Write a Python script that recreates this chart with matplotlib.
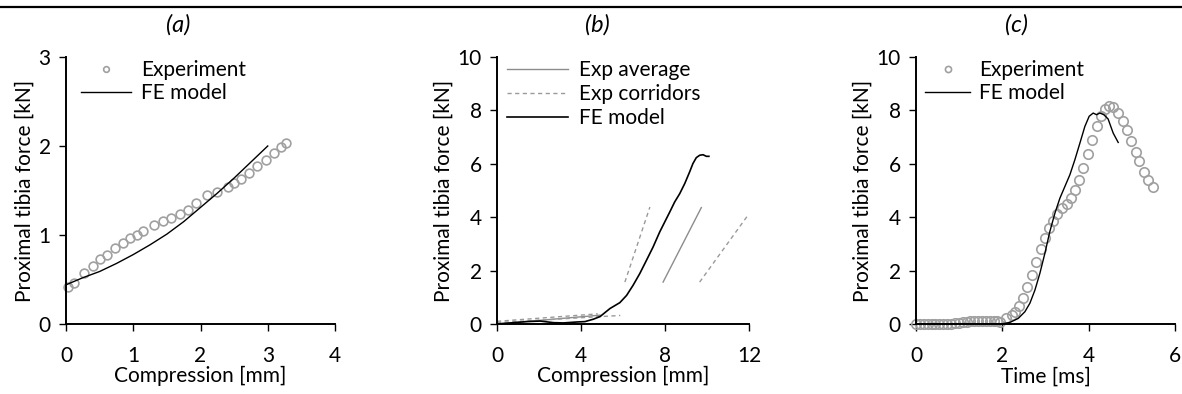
import matplotlib
matplotlib.use("Agg")
import matplotlib.pyplot as plt
from matplotlib.lines import Line2D

plt.rcParams['font.family'] = ['Lato', 'DejaVu Sans']
FS = 15

# ---------------- Panel (a) data ----------------
a_exp_x = [0.035, 0.119, 0.272, 0.396, 0.505, 0.614, 0.733, 0.842, 0.955, 1.05,
           1.149, 1.302, 1.436, 1.564, 1.693, 1.807, 1.926, 2.104, 2.243, 2.416,
           2.50, 2.609, 2.723, 2.842, 2.98, 3.094, 3.193, 3.277]
a_exp_y = [0.412, 0.457, 0.569, 0.655, 0.727, 0.779, 0.850, 0.906, 0.963, 1.0,
           1.049, 1.109, 1.157, 1.195, 1.240, 1.281, 1.360, 1.449, 1.487, 1.536,
           1.588, 1.625, 1.693, 1.779, 1.843, 1.918, 1.985, 2.03]
a_fe_x = [0.0, 0.25, 0.5, 0.75, 1.0, 1.25, 1.5, 1.75, 2.0, 2.25, 2.5, 2.75, 3.0]
a_fe_y = [0.44, 0.52, 0.59, 0.68, 0.78, 0.89, 1.01, 1.15, 1.31, 1.47, 1.64, 1.82, 2.0]

# ---------------- Panel (b) data ----------------
b_avg_low_x = [0.0, 4.9]
b_avg_low_y = [0.0, 0.33]
b_avg_high_x = [7.91, 9.73]
b_avg_high_y = [1.57, 4.36]
b_cor1_low_x = [0.0, 4.8]
b_cor1_low_y = [0.10, 0.38]
b_cor1_high_x = [6.09, 7.28]
b_cor1_high_y = [1.57, 4.38]
b_cor2_low_x = [0.0, 5.87]
b_cor2_low_y = [0.05, 0.32]
b_cor2_high_x = [9.65, 11.91]
b_cor2_high_y = [1.57, 4.03]
b_fe_x = [0.0, 0.63, 1.42, 2.06, 2.69, 3.16, 3.80, 4.19, 4.59, 4.91, 5.38, 5.85,
          6.17, 6.48, 6.80, 7.12, 7.43, 7.75, 8.07, 8.23, 8.46, 8.70, 8.94, 9.17,
          9.33, 9.49, 9.65, 9.81, 9.97, 10.09]
b_fe_y = [0.0, 0.04, 0.09, 0.11, 0.05, 0.04, 0.075, 0.09, 0.18, 0.28, 0.58, 0.80,
          1.07, 1.45, 1.89, 2.39, 2.88, 3.45, 3.95, 4.20, 4.57, 4.88, 5.26, 5.69,
          6.01, 6.23, 6.32, 6.34, 6.28, 6.28]

# ---------------- Panel (c) data ----------------
c_exp_x = [0.0, 0.09, 0.18, 0.27, 0.36, 0.45, 0.54, 0.63, 0.72, 0.81, 0.90, 0.99,
           1.08, 1.17, 1.26, 1.35, 1.44, 1.53, 1.62, 1.71, 1.80, 1.87,
           1.944, 2.083, 2.215, 2.29, 2.384, 2.484, 2.577, 2.678, 2.778, 2.886,
           2.986, 3.086, 3.178, 3.27, 3.387, 3.488, 3.588, 3.68, 3.78, 3.873,
           3.974, 4.082, 4.182, 4.275, 4.375, 4.468, 4.568, 4.684, 4.784, 4.89,
           4.984, 5.085, 5.169, 5.278, 5.377, 5.493]
c_exp_y = [0.0, 0.0, 0.0, 0.0, 0.0, 0.0, 0.0, 0.0, 0.0, 0.01, 0.02, 0.04,
           0.06, 0.08, 0.10, 0.10, 0.10, 0.10, 0.10, 0.10, 0.10, 0.10,
           0.09, 0.21, 0.34, 0.46, 0.675, 0.96, 1.37, 1.84, 2.34, 2.80,
           3.21, 3.59, 3.84, 4.12, 4.34, 4.50, 4.72, 5.02, 5.40, 5.86,
           6.37, 6.90, 7.40, 7.80, 8.05, 8.17, 8.12, 7.90, 7.62, 7.25,
           6.84, 6.46, 6.09, 5.71, 5.40, 5.125]
c_fe_x = [0.0, 1.0, 1.98, 2.176, 2.369, 2.523, 2.639, 2.755, 2.87, 2.986, 3.10,
          3.218, 3.333, 3.449, 3.565, 3.68, 3.796, 3.912, 4.012, 4.104, 4.182,
          4.26, 4.35, 4.45, 4.568, 4.684]
c_fe_y = [0.0, 0.0, 0.0, 0.06, 0.21, 0.46, 0.78, 1.27, 1.90, 2.65, 3.46,
          4.15, 4.71, 5.15, 5.59, 6.15, 6.77, 7.40, 7.78, 7.90, 7.84,
          7.90, 7.84, 7.68, 7.15, 6.80]

a_xticks = [0, 1, 2, 3, 4]
a_yticks = [0, 1, 2, 3]
b_xticks = [0, 4, 8, 12]
b_yticks = [0, 2, 4, 6, 8, 10]
c_xticks = [0, 2, 4, 6]
c_yticks = [0, 2, 4, 6, 8, 10]

W, H = 1182, 394
fig = plt.figure(figsize=(W / 100, H / 100), dpi=100)

def px_axes(x0, x1, ytop, ybot):
    return fig.add_axes([x0 / W, 1 - ybot / H, (x1 - x0) / W, (ybot - ytop) / H])

ax_a = px_axes(66, 335, 57, 324)
ax_b = px_axes(497, 749, 57, 324)
ax_c = px_axes(916, 1175, 57, 324)

EXP_C = '#a0a0a0'
AVG_C = '#8c8c8c'
COR_C = '#9a9a9a'

def style(ax, xticks, yticks, xlabel):
    for s in ['top', 'right']:
        ax.spines[s].set_visible(False)
    for s in ['left', 'bottom']:
        ax.spines[s].set_linewidth(1.4)
        ax.spines[s].set_color('black')
    ax.set_xticks(xticks)
    ax.set_yticks(yticks)
    ax.set_xlim(xticks[0], xticks[-1])
    ax.set_ylim(yticks[0], yticks[-1])
    ax.tick_params(direction='out', length=5, width=1.0, labelsize=FS)
    ax.tick_params(axis='x', pad=11)
    ax.tick_params(axis='y', pad=6)
    ax.set_xlabel(xlabel, fontsize=FS, labelpad=0)
    ax.set_ylabel('Proximal tibia force [kN]', fontsize=FS, labelpad=3)

# Panel (a)
ax_a.plot(a_fe_x, a_fe_y, color='black', lw=1.0, label='FE model', zorder=3)
ax_a.plot(a_exp_x, a_exp_y, ls='none', marker='o', ms=6.3, mfc='none',
          mec=EXP_C, mew=1.2, label='Experiment', zorder=2, clip_on=False)
style(ax_a, a_xticks, a_yticks, 'Compression [mm]')
h, l = ax_a.get_legend_handles_labels()
ax_a.legend([h[1], h[0]], [l[1], l[0]], loc='upper left', bbox_to_anchor=(0.026, 1.02),
            frameon=False, fontsize=FS, handlelength=2.4, handletextpad=0.45,
            labelspacing=0.15, markerscale=0.65, borderaxespad=0)

# Panel (b)
ax_b.plot(b_avg_low_x, b_avg_low_y, color=AVG_C, lw=1.0, label='Exp average')
ax_b.plot(b_avg_high_x, b_avg_high_y, color=AVG_C, lw=1.0)
ax_b.plot(b_cor1_low_x, b_cor1_low_y, color=COR_C, lw=1.0, ls=(0, (3, 2.5)), label='Exp corridors')
ax_b.plot(b_cor1_high_x, b_cor1_high_y, color=COR_C, lw=1.0, ls=(0, (3, 2.5)))
ax_b.plot(b_cor2_low_x, b_cor2_low_y, color=COR_C, lw=1.0, ls=(0, (3, 2.5)))
ax_b.plot(b_cor2_high_x, b_cor2_high_y, color=COR_C, lw=1.0, ls=(0, (3, 2.5)))
ax_b.plot(b_fe_x, b_fe_y, color='black', lw=1.2, label='FE model')
style(ax_b, b_xticks, b_yticks, 'Compression [mm]')
ax_b.legend(loc='upper left', bbox_to_anchor=(0.008, 1.02), frameon=False, fontsize=FS,
            handlelength=2.93, handletextpad=0.53, labelspacing=0.2, borderaxespad=0)

# Panel (c)
ax_c.plot(c_fe_x, c_fe_y, color='black', lw=1.0, label='FE model', zorder=3)
ax_c.plot(c_exp_x, c_exp_y, ls='none', marker='o', ms=6.8, mfc='none',
          mec=EXP_C, mew=1.2, label='Experiment', zorder=2, clip_on=False)
style(ax_c, c_xticks, c_yticks, 'Time [ms]')
h, l = ax_c.get_legend_handles_labels()
ax_c.legend([h[1], h[0]], [l[1], l[0]], loc='upper left', bbox_to_anchor=(0.004, 1.02),
            frameon=False, fontsize=FS, handlelength=2.16, handletextpad=0.43,
            labelspacing=0.15, markerscale=0.65, borderaxespad=0)

# Titles
for xc, t in [(178, '(a)'), (597, '(b)'), (1017, '(c)')]:
    fig.text(xc / W, 1 - 25 / H, t, ha='center', va='center', fontsize=17, style='italic')

# Top rule
fig.add_artist(Line2D([0, 1], [1 - 7 / H, 1 - 7 / H], color='black', lw=1.6,
                      transform=fig.transFigure))

fig.savefig('out.png', dpi=100)
